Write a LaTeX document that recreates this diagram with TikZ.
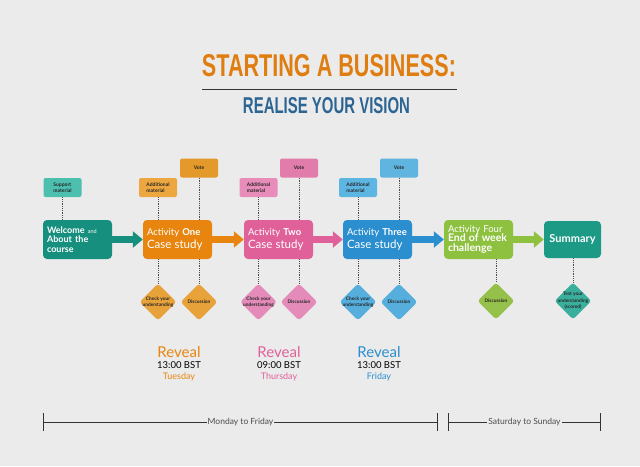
\documentclass[tikz,border=0pt]{standalone}
\usepackage{graphicx}
\usepackage{fontspec}
\setmainfont{Lato}
\newfontfamily\titlefont{Liberation Sans}
\usetikzlibrary{shapes.geometric,arrows.meta}
\definecolor{bg}{HTML}{EBEBEB}
\definecolor{cteal}{HTML}{178F7E}
\definecolor{csumm}{HTML}{1C9A86}
\definecolor{corange}{HTML}{E8850F}
\definecolor{cpink}{HTML}{E0609A}
\definecolor{cblue}{HTML}{2A8ECF}
\definecolor{cgreen}{HTML}{8DC13F}
\definecolor{lteal}{HTML}{4DBFAF}
\definecolor{lorange}{HTML}{EDA740}
\definecolor{vorange}{HTML}{E49A2A}
\definecolor{lpink}{HTML}{E88CBA}
\definecolor{vpink}{HTML}{E27CAB}
\definecolor{lblue}{HTML}{5DB6E2}
\definecolor{vblue}{HTML}{5FB4E0}
\definecolor{dorange}{HTML}{E8A23A}
\definecolor{dpink}{HTML}{E48BBA}
\definecolor{dblue}{HTML}{56AEDD}
\definecolor{dgreen}{HTML}{95C04A}
\definecolor{dteal}{HTML}{3BAF9E}
\definecolor{ttlorange}{HTML}{E07D10}
\definecolor{ttlblue}{HTML}{2C6594}
\begin{document}
\begin{tikzpicture}[x=1pt,y=-1pt,
  mainbox/.style={rounded corners=4pt, minimum width=69pt, minimum height=39pt, text width=61pt, inner sep=4pt, align=left, text=white, font=\fontsize{9.5}{10}\selectfont},
  smallbox/.style={rounded corners=2pt, minimum width=38pt, minimum height=19pt, inner sep=2pt, align=left, text=black!85, font=\fontsize{5}{6.5}\selectfont\bfseries},
  votebox/.style={smallbox, align=center},
  dia/.style={diamond, minimum size=37pt, inner sep=0pt, rounded corners=3pt},
  dtext/.style={align=center, font=\fontsize{4.8}{6.5}\selectfont\bfseries, text=black!85, inner sep=0pt},
  dots/.style={draw=black!70, line width=0.7pt, dash pattern=on 0.8pt off 1pt},
  arr/.style={line width=6.5pt, -{Triangle[length=10pt,width=16pt]}},
  rev/.style={font=\fontsize{15}{16}\selectfont, inner sep=0pt},
  revtime/.style={font=\fontsize{9.5}{10}\selectfont, text=black, inner sep=0pt},
  revday/.style={font=\fontsize{9}{10}\selectfont, inner sep=0pt},
  tline/.style={draw=black!80, line width=0.8pt, {Bar[width=18pt]}-{Bar[width=18pt]}},
  tlab/.style={fill=bg, inner sep=1pt, text=black!70, font=\fontsize{8.5}{9}\selectfont}
]
\fill[bg] (0,0) rectangle (640,466);

% title
\node[text=ttlorange, inner sep=0pt] (title) at (329,66) {\resizebox{254pt}{22pt}{\titlefont\bfseries STARTING A BUSINESS:}};
\coordinate (ul1) at (202,89);
\coordinate (ul2) at (457,89);
\draw[black!80, line width=0.8pt] (ul1) -- (ul2);
\node[text=ttlblue, inner sep=0pt] (subtitle) at (326.5,106) {\resizebox{167pt}{16pt}{\titlefont\bfseries REALISE YOUR VISION}};

% main boxes
\node[mainbox, fill=cteal] (welcome) at (77.5,239.5) {\fontsize{9}{9}\selectfont\textbf{Welcome} {\fontsize{5.5}{6}\selectfont and}\\\textbf{About the}\\\textbf{course}};
\node[mainbox, fill=corange] (act1) at (177.5,239.5) {Activity \textbf{One}\\[1pt]{\fontsize{11.5}{12}\selectfont Case study}};
\node[mainbox, fill=cpink] (act2) at (278.5,239.5) {Activity \textbf{Two}\\[1pt]{\fontsize{11.5}{12}\selectfont Case study}};
\node[mainbox, fill=cblue] (act3) at (377.5,239.5) {Activity \textbf{Three}\\[1pt]{\fontsize{11.5}{12}\selectfont Case study}};
\node[mainbox, fill=cgreen] (act4) at (478.5,239.5) {Activity Four\\{\fontsize{10.5}{9.5}\selectfont\bfseries End of week\\challenge}};
\node[mainbox, fill=csumm, minimum width=57pt, text width=49pt, minimum height=37pt, align=center] (summ) at (572.5,239.5) {\fontsize{11}{12}\selectfont\bfseries Summary};

% arrows
\draw[arr, cteal] (welcome.east) -- (act1.west);
\draw[arr, corange] (act1.east) -- (act2.west);
\draw[arr, cpink] (act2.east) -- (act3.west);
\draw[arr, cblue] (act3.east) -- (act4.west);
\draw[arr, cgreen] (act4.east) -- (summ.west);

% small boxes
\node[smallbox, fill=lteal] (sup) at (62.5,187.5) {Support\\material};
\node[smallbox, fill=lorange] (am1) at (158,187.5) {Additional\\material};
\node[votebox, fill=vorange] (vo1) at (199,168) {Vote};
\node[smallbox, fill=lpink] (am2) at (258.5,187.5) {Additional\\material};
\node[votebox, fill=vpink] (vo2) at (299,168) {Vote};
\node[smallbox, fill=lblue] (am3) at (358,187.5) {Additional\\material};
\node[votebox, fill=vblue] (vo3) at (399,168) {Vote};

% diamonds
\node[dia, fill=dorange] (d1a) at (158,302) {};
\node[dtext] (d1at) at (d1a) {Check your\\understanding};
\node[dia, fill=dorange] (d1b) at (199,302) {};
\node[dtext] (d1bt) at (d1b) {Discussion};
\node[dia, fill=dpink] (d2a) at (258.5,302) {};
\node[dtext] (d2at) at (d2a) {Check your\\understanding};
\node[dia, fill=dpink] (d2b) at (299,302) {};
\node[dtext] (d2bt) at (d2b) {Discussion};
\node[dia, fill=dblue] (d3a) at (358,302) {};
\node[dtext] (d3at) at (d3a) {Check your\\understanding};
\node[dia, fill=dblue] (d3b) at (399,302) {};
\node[dtext] (d3bt) at (d3b) {Discussion};
\node[dia, fill=dgreen] (d4) at (496,301) {};
\node[dtext] (d4t) at (d4) {Discussion};
\node[dia, fill=dteal] (d5) at (573,301) {};
\node[dtext] (d5t) at (d5) {Test your\\understanding\\(scored)};

% dotted connectors
\draw[dots] (sup.south) -- (sup.south |- welcome.north);
\draw[dots] (am1.south) -- (am1.south |- act1.north);
\draw[dots] (vo1.south) -- (vo1.south |- act1.north);
\draw[dots] (am2.south) -- (am2.south |- act2.north);
\draw[dots] (vo2.south) -- (vo2.south |- act2.north);
\draw[dots] (am3.south) -- (am3.south |- act3.north);
\draw[dots] (vo3.south) -- (vo3.south |- act3.north);
\draw[dots] (d1a.north |- act1.south) -- (d1a.north);
\draw[dots] (d1b.north |- act1.south) -- (d1b.north);
\draw[dots] (d2a.north |- act2.south) -- (d2a.north);
\draw[dots] (d2b.north |- act2.south) -- (d2b.north);
\draw[dots] (d3a.north |- act3.south) -- (d3a.north);
\draw[dots] (d3b.north |- act3.south) -- (d3b.north);
\draw[dots] (d4.north |- act4.south) -- (d4.north);
\draw[dots] (d5.north |- summ.south) -- (d5.north);

% reveal
\node[rev, text=corange] (rv1) at (179,352) {Reveal};
\node[revtime] (rt1) at (179,365) {13:00 BST};
\node[revday, text=corange] (rd1) at (179,377) {Tuesday};
\node[rev, text=cpink] (rv2) at (279,352) {Reveal};
\node[revtime] (rt2) at (279,365) {09:00 BST};
\node[revday, text=cpink] (rd2) at (279,377) {Thursday};
\node[rev, text=cblue] (rv3) at (379,352) {Reveal};
\node[revtime] (rt3) at (379,365) {13:00 BST};
\node[revday, text=cblue] (rd3) at (379,377) {Friday};

% timeline
\coordinate (tl1) at (43,422);
\coordinate (tr1) at (438,422);
\coordinate (tl2) at (448,422);
\coordinate (tr2) at (601,422);
\draw[tline] (tl1) -- node[tlab] (mf) {Monday to Friday} (tr1);
\draw[tline] (tl2) -- node[tlab] (ss) {Saturday to Sunday} (tr2);
\end{tikzpicture}
\end{document}
